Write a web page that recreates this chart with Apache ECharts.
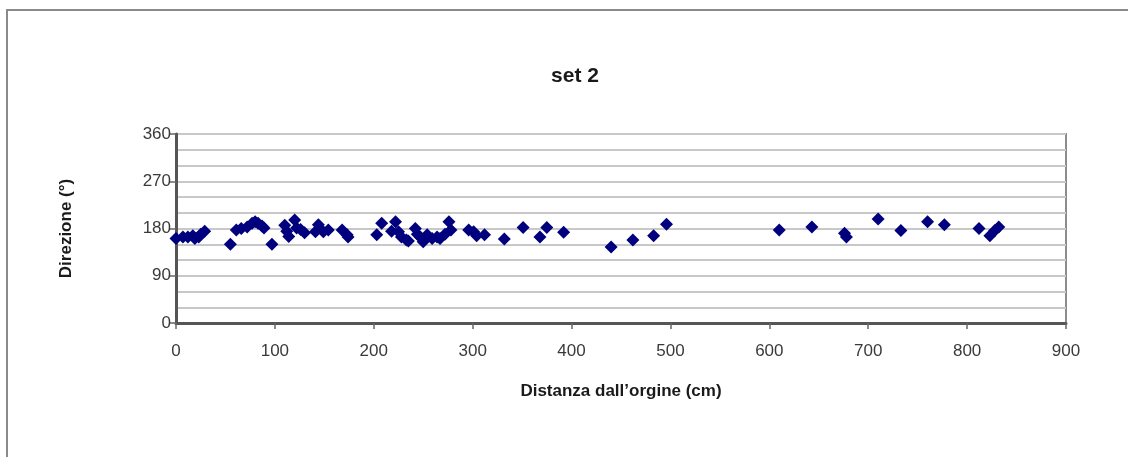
<!DOCTYPE html>
<html>
<head>
<meta charset="utf-8">
<script src="https://cdn.jsdelivr.net/npm/echarts@6/dist/echarts.min.js"></script>
<style>html,body{margin:0;padding:0;background:#fff}#c{width:1128px;height:457px}</style>
</head>
<body>
<div id="c"></div>
<script>
const titleText = 'set 2';
const xName = 'Distanza dall\u2019orgine (cm)';
const yName = 'Direzione (°)';
const distanza = [0,7,12,17,19,23,25,29,55,61,66,72,77,80,83,87,89,97,
  110,112,114,120,122,126,130,141,144,149,154,168,173,174,
  203,208,218,222,225,228,233,235,242,244,247,250,254,259,264,267,272,276,278,
  296,301,304,312,332,351,368,375,392,440,462,483,496,
  610,643,676,678,710,733,760,777,812,823,828,832];
const direzione = [161,164,164,166,161,164,169,175,150,177,180,183,190,193,190,185,181,150,
  186,175,165,196,181,178,172,174,187,174,177,177,168,164,
  168,190,175,193,174,164,158,156,180,169,164,155,168,161,164,161,169,193,177,
  177,174,166,168,160,182,164,182,173,145,158,166,188,
  177,183,171,164,198,176,193,187,180,166,176,183];
const points = distanza.map((d, i) => [d, direzione[i]]);

const chart = echarts.init(document.getElementById('c'));
const lblFont = {fontFamily: 'Liberation Sans, Arial, sans-serif', fontSize: 17, color: '#3a3a3a'};
chart.setOption({
  animation: false,
  backgroundColor: '#fff',
  title: {text: titleText, left: 570, top: 61, textAlign: 'center',
    textStyle: {fontFamily: 'Liberation Sans, Arial, sans-serif', fontSize: 21, fontWeight: 'bold', color: '#1a1a1a'}},
  graphic: [{type: 'rect', shape: {x: 7, y: 10, width: 1200, height: 500},
    style: {fill: 'none', stroke: '#8a8a8a', lineWidth: 2}, silent: true, z: -1}],
  grid: {left: 176, top: 134, right: 62, bottom: 134, show: true, borderColor: '#8c8c8c', borderWidth: 2, backgroundColor: '#fff'},
  xAxis: {type: 'value', min: 0, max: 900, interval: 100,
    name: xName, nameLocation: 'middle', nameGap: 60,
    nameTextStyle: {fontFamily: 'Liberation Sans, Arial, sans-serif', fontSize: 17, fontWeight: 'bold', color: '#1a1a1a'},
    axisLine: {show: true, onZero: false, lineStyle: {color: '#555', width: 3}},
    axisTick: {show: true, length: 6, lineStyle: {color: '#666', width: 1.5}},
    axisLabel: Object.assign({margin: 20}, lblFont),
    splitLine: {show: false}},
  yAxis: {type: 'value', min: 0, max: 360, interval: 90,
    name: yName, nameLocation: 'middle', nameGap: 101, nameRotate: 90,
    nameTextStyle: {fontFamily: 'Liberation Sans, Arial, sans-serif', fontSize: 17, fontWeight: 'bold', color: '#1a1a1a'},
    axisLine: {show: true, lineStyle: {color: '#555', width: 3}},
    axisTick: {show: true, length: 6, lineStyle: {color: '#666', width: 1.5}},
    axisLabel: Object.assign({margin: 5}, lblFont),
    splitLine: {show: true, lineStyle: {color: '#c8c8c8', width: 2}},
    minorTick: {show: false, splitNumber: 3},
    minorSplitLine: {show: true, lineStyle: {color: '#c8c8c8', width: 2}}},
  series: [{type: 'scatter', data: points, symbol: 'diamond', symbolSize: 13,
    itemStyle: {color: '#00007f', opacity: 1}}]
});
</script>
</body>
</html>
